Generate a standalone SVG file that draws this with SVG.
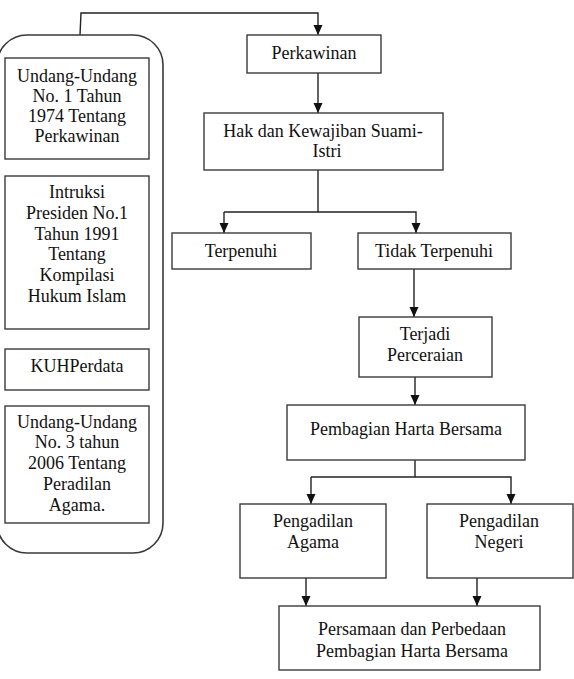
<svg xmlns="http://www.w3.org/2000/svg" width="574" height="679" viewBox="0 0 574 679">
<defs>
<style>
.box{fill:#fff;stroke:#3a3a3a;stroke-width:1.4}
.cont{fill:none;stroke:#3a3a3a;stroke-width:1.6}
.ln{fill:none;stroke:#222;stroke-width:1.4}
.ar{marker-end:url(#ah)}
text{font-family:"Liberation Serif","Times New Roman",serif;font-size:18px;fill:#111;text-anchor:middle}
</style>
<marker id="ah" markerUnits="userSpaceOnUse" markerWidth="12" markerHeight="12" viewBox="0 0 12 12" refX="10" refY="6" orient="auto">
<path d="M0,1.5 L10,6 L0,10.5 Z" fill="#111"/>
</marker>
</defs>
<rect width="574" height="679" fill="#fff"/>
<g id="connectors">
<path class="ln ar" d="M80,35 L81,13 L318,13 L318,35"/>
<path class="ln ar" d="M318,73 L318,113"/>
<path class="ln" d="M318,170 L318,212"/>
<path class="ln ar" d="M224,212 L224,233"/>
<path class="ln ar" d="M224,212 L416,212 L416,233"/>
<path class="ln ar" d="M414,269 L414,317"/>
<path class="ln ar" d="M415,377 L415,405"/>
<path class="ln" d="M415,460 L415,477"/>
<path class="ln ar" d="M311,477 L311,504"/>
<path class="ln ar" d="M311,477 L511,477 L511,504"/>
<path class="ln ar" d="M306,578 L306,606"/>
<path class="ln ar" d="M477,578 L477,606"/>
</g>
<g id="legal-basis">
<rect class="cont" x="-3" y="35" width="166" height="518" rx="30" ry="30"/>
</g>
<g id="uu1974">
<rect class="box" x="5" y="58" width="144" height="101"/>
<text x="77" y="82">Undang-Undang</text>
<text x="77" y="102">No. 1 Tahun</text>
<text x="77" y="122">1974 Tentang</text>
<text x="77" y="142">Perkawinan</text>
</g>
<g id="inpres1991">
<rect class="box" x="5" y="176" width="144" height="153"/>
<text x="77" y="198">Intruksi</text>
<text x="77" y="219">Presiden No.1</text>
<text x="77" y="240">Tahun 1991</text>
<text x="77" y="260">Tentang</text>
<text x="77" y="281">Kompilasi</text>
<text x="77" y="302">Hukum Islam</text>
</g>
<g id="kuhperdata">
<rect class="box" x="5" y="349" width="144" height="41"/>
<text x="77" y="372">KUHPerdata</text>
</g>
<g id="uu2006">
<rect class="box" x="5" y="406" width="144" height="117"/>
<text x="77" y="428">Undang-Undang</text>
<text x="77" y="448">No. 3 tahun</text>
<text x="77" y="469">2006 Tentang</text>
<text x="77" y="490">Peradilan</text>
<text x="77" y="511">Agama.</text>
</g>
<g id="perkawinan">
<rect class="box" x="247" y="35" width="134" height="38"/>
<text x="314" y="59">Perkawinan</text>
</g>
<g id="hak">
<rect class="box" x="204" y="113" width="239" height="57"/>
<text x="323" y="137">Hak dan Kewajiban Suami-</text>
<text x="327" y="157">Istri</text>
</g>
<g id="terpenuhi">
<rect class="box" x="172" y="233" width="139" height="36"/>
<text x="241" y="257">Terpenuhi</text>
</g>
<g id="tidak-terpenuhi">
<rect class="box" x="358" y="233" width="153" height="36"/>
<text x="434" y="257">Tidak Terpenuhi</text>
</g>
<g id="terjadi">
<rect class="box" x="359" y="317" width="133" height="60"/>
<text x="425" y="340">Terjadi</text>
<text x="425" y="361">Perceraian</text>
</g>
<g id="pembagian">
<rect class="box" x="287" y="405" width="238" height="55"/>
<text x="406" y="435">Pembagian Harta Bersama</text>
</g>
<g id="pengadilan-agama">
<rect class="box" x="240" y="504" width="146" height="74"/>
<text x="313" y="527">Pengadilan</text>
<text x="313" y="548">Agama</text>
</g>
<g id="pengadilan-negeri">
<rect class="box" x="427" y="504" width="146" height="74"/>
<text x="499" y="527">Pengadilan</text>
<text x="499" y="548">Negeri</text>
</g>
<g id="persamaan">
<rect class="box" x="279" y="606" width="261" height="64"/>
<text x="412" y="635">Persamaan dan Perbedaan</text>
<text x="412" y="657">Pembagian Harta Bersama</text>
</g>
</svg>
